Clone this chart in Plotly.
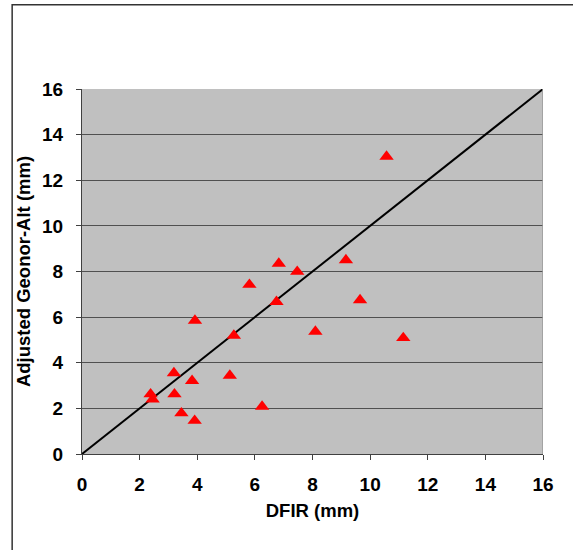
import plotly.graph_objects as go

dfir_mm = [2.38, 2.45, 3.19, 3.21, 3.45, 3.82, 3.91, 3.92, 5.13, 5.27,
           5.81, 6.25, 6.75, 6.83, 7.47, 8.10, 9.16, 9.65, 10.57, 11.15]
geonor_alt_mm = [2.62, 2.40, 3.55, 2.62, 1.79, 3.21, 1.46, 5.85, 3.44, 5.19,
                 7.42, 2.08, 6.67, 8.35, 7.99, 5.37, 8.50, 6.75, 13.04, 5.09]
line_x = [0, 16]
line_y = [0, 16]
tick_vals = [0, 2, 4, 6, 8, 10, 12, 14, 16]

FONT = "Liberation Sans, Arial, sans-serif"

fig = go.Figure()
fig.add_trace(go.Scatter(x=line_x, y=line_y, mode="lines",
                         line=dict(color="black", width=2), hoverinfo="skip"))
fig.add_trace(go.Scatter(x=dfir_mm, y=geonor_alt_mm, mode="markers",
                         marker=dict(symbol="triangle-up", size=12.5, color="#FF0000",
                                     line=dict(width=0))))

axis_common = dict(range=[0, 16], tickvals=tick_vals, ticks="outside", ticklen=5,
                   tickcolor="#404040", tickwidth=1, showline=True, linecolor="#404040",
                   linewidth=1, zeroline=False,
                   tickfont=dict(family=FONT, size=19, color="black", weight="bold"),
                   fixedrange=True)

fig.update_layout(
    width=573, height=550,
    margin=dict(l=82, r=30, t=89, b=96),
    paper_bgcolor="white", plot_bgcolor="#C0C0C0",
    showlegend=False,
    font=dict(family=FONT, color="black"),
    xaxis=dict(**axis_common, showgrid=False, mirror=False, ticklabelstandoff=8,
               title=dict(text="DFIR (mm)", standoff=10,
                          font=dict(family=FONT, size=18.5, color="black", weight="bold"))),
    yaxis=dict(**axis_common, showgrid=True, gridcolor="#505050", gridwidth=1,
               ticklabelstandoff=9,
               title=dict(text="Adjusted Geonor-Alt (mm)", standoff=6,
                          font=dict(family=FONT, size=18.5, color="black", weight="bold"))),
    shapes=[
        dict(type="line", xref="x", yref="y", x0=16, x1=16, y0=0, y1=16,
             line=dict(color="#9A9A9A", width=1.5), layer="above"),
        dict(type="rect", xref="paper", yref="paper", x0=-0.1515, x1=1.2,
             y0=-0.5, y1=1.2305, line=dict(color="#333333", width=1.5),
             fillcolor="rgba(0,0,0,0)", layer="below"),
    ],
)

fig.write_html("out.html", config={"displayModeBar": False},
               post_script="document.body.style.margin='0';")
